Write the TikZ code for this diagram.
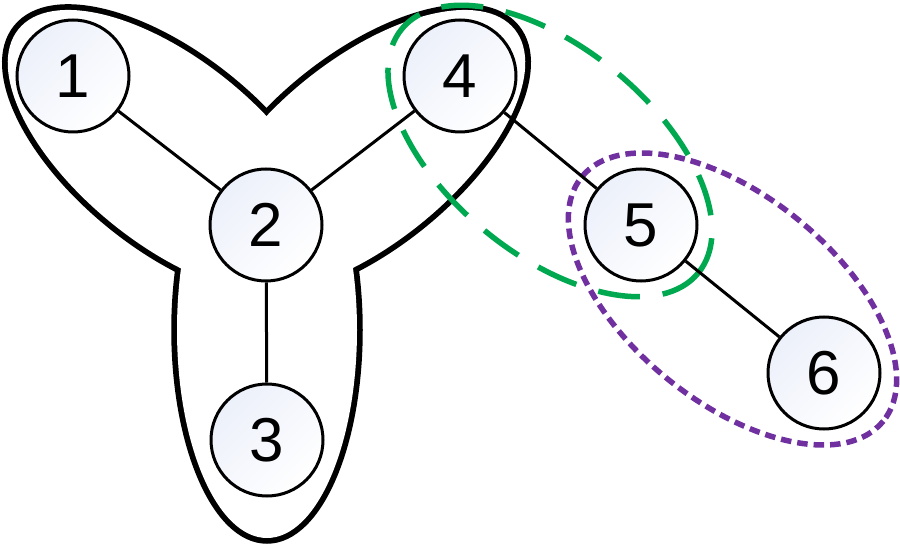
\documentclass[tikz,border=0pt]{standalone}
\usepackage{fontspec}
\setmainfont{Liberation Sans}
\definecolor{nodeblue}{RGB}{236,240,250}
\definecolor{ringgreen}{RGB}{0,168,80}
\definecolor{ringpurple}{RGB}{112,48,160}
\begin{document}
\begin{tikzpicture}[x=1pt,y=-1pt,
  vertex/.style={circle, draw=black, line width=3pt, minimum size=112pt, inner sep=0pt,
    top color=nodeblue, bottom color=white, shading angle=45,
    font=\fontsize{62}{62}\selectfont},
  link/.style={line width=3pt, draw=black},
  lobe/.style={line width=11.5pt, draw=black},
  greenring/.style={draw=ringgreen, line width=5.5pt, dash pattern=on 42pt off 23pt},
  purplering/.style={draw=ringpurple, line width=5.5pt, dash pattern=on 10.5pt off 6pt}]
\useasboundingbox (0,0) rectangle (900,545);
% trefoil outline (union of three ellipses)
\draw[lobe, rotate around={-39:(170,152)}] (170,152) ellipse [x radius=195, y radius=92];
\draw[lobe, rotate around={39:(363,152)}] (363,152) ellipse [x radius=195, y radius=92];
\draw[lobe] (267,330) ellipse [x radius=90, y radius=208];
\fill[white, rotate around={-39:(170,152)}] (170,152) ellipse [x radius=195, y radius=92];
\fill[white, rotate around={39:(363,152)}] (363,152) ellipse [x radius=195, y radius=92];
\fill[white] (267,330) ellipse [x radius=90, y radius=208];
% dashed groups
\draw[greenring, rotate around={-39.5:(550,151)}] (550,151) ellipse [x radius=192, y radius=103];
\draw[purplering, rotate around={-39:(732.5,299)}] (732.5,299) ellipse [x radius=194, y radius=103];
% nodes
\node[vertex] (n1) at (73,76) {1};
\node[vertex] (n2) at (266,225) {2};
\node[vertex] (n3) at (267,440) {3};
\node[vertex] (n4) at (460,76) {4};
\node[vertex] (n5) at (641,225) {5};
\node[vertex] (n6) at (824,373) {6};
% edges
\draw[link] (n1) -- (n2);
\draw[link] (n2) -- (n3);
\draw[link] (n2) -- (n4);
\draw[link] (n4) -- (n5);
\draw[link] (n5) -- (n6);
\end{tikzpicture}
\end{document}
